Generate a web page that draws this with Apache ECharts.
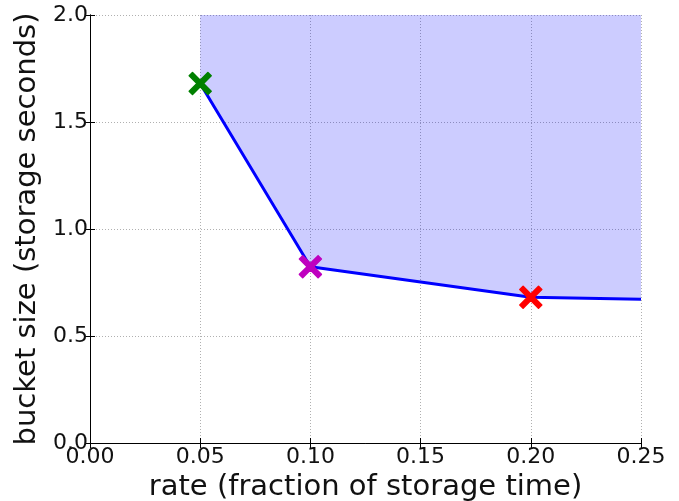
<!DOCTYPE html>
<html><head><meta charset="utf-8">
<script src="https://cdn.jsdelivr.net/npm/echarts@6/dist/echarts.min.js"></script>
<style>html,body{margin:0;padding:0;background:#fff}#c{width:679px;height:501px}</style>
</head><body><div id="c"></div>
<script>
// Data
const curveX = [0.05, 0.10, 0.20, 0.25];
const curveY = [1.68, 0.824, 0.681, 0.672];
const markerPoints = [[0.05, 1.68], [0.10, 0.824], [0.20, 0.681]];
const markerColors = ['#008000', '#bf00bf', '#ff0000'];
const xTicks = [0.00, 0.05, 0.10, 0.15, 0.20, 0.25];
const yTicks = [0.0, 0.5, 1.0, 1.5, 2.0];

const FONT = 'DejaVu Sans';
const X_PATH = 'path://M0,3 L3,0 L10,7 L17,0 L20,3 L13,10 L20,17 L17,20 L10,13 L3,20 L0,17 L7,10 Z';

const chart = echarts.init(document.getElementById('c'), null, {renderer: 'canvas'});
const gridLine = {show: true, lineStyle: {color: '#b0b0b0', type: [1, 2], width: 1}};
const axisLine = {show: true, lineStyle: {color: '#000', width: 1}};
const tick = {show: true, inside: true, length: 5, lineStyle: {color: '#000'}};
const option = {
  animation: false,
  grid: {left: 90, right: 38, top: 15, bottom: 58, containLabel: false, outerBoundsMode: 'none'},
  xAxis: [{
    type: 'value', min: 0, max: 0.25, interval: 0.05,
    name: 'rate (fraction of storage time)', nameLocation: 'middle', nameGap: 20,
    nameTextStyle: {fontFamily: FONT, fontSize: 29, color: '#111'},
    axisLine: axisLine, axisTick: tick, splitLine: gridLine,
    axisLabel: {fontFamily: FONT, fontSize: 22, color: '#111', margin: 3,
      formatter: v => v.toFixed(2)}
  }, {
    type: 'value', position: 'top', min: 0, max: 0.25, interval: 0.05,
    axisLine: axisLine, axisTick: tick, splitLine: {show: false}, axisLabel: {show: false}
  }],
  yAxis: [{
    type: 'value', min: 0, max: 2, interval: 0.5,
    name: 'bucket size (storage seconds)', nameLocation: 'middle', nameGap: 44,
    nameTextStyle: {fontFamily: FONT, fontSize: 29, color: '#111'},
    axisLine: axisLine, axisTick: tick, splitLine: gridLine,
    axisLabel: {fontFamily: FONT, fontSize: 22, color: '#111', margin: 2,
      formatter: v => v.toFixed(1)}
  }, {
    type: 'value', position: 'right', min: 0, max: 2, interval: 0.5,
    axisLine: axisLine, axisTick: tick, splitLine: {show: false}, axisLabel: {show: false}
  }],
  series: [{
    type: 'line',
    data: curveX.map((x, i) => [x, curveY[i]]),
    showSymbol: false, symbol: 'none',
    lineStyle: {color: '#0000ff', width: 3},
    areaStyle: {origin: 'end', color: 'rgba(0,0,255,0.2)', opacity: 1},
    z: 2
  }, {
    type: 'scatter',
    data: markerPoints.map((p, i) => ({value: p, itemStyle: {color: markerColors[i], borderColor: markerColors[i]}})),
    symbol: X_PATH, symbolSize: 22,
    itemStyle: {opacity: 1, borderWidth: 1.5, borderJoin: 'round'},
    z: 3
  }]
};
chart.setOption(option);
</script></body></html>
